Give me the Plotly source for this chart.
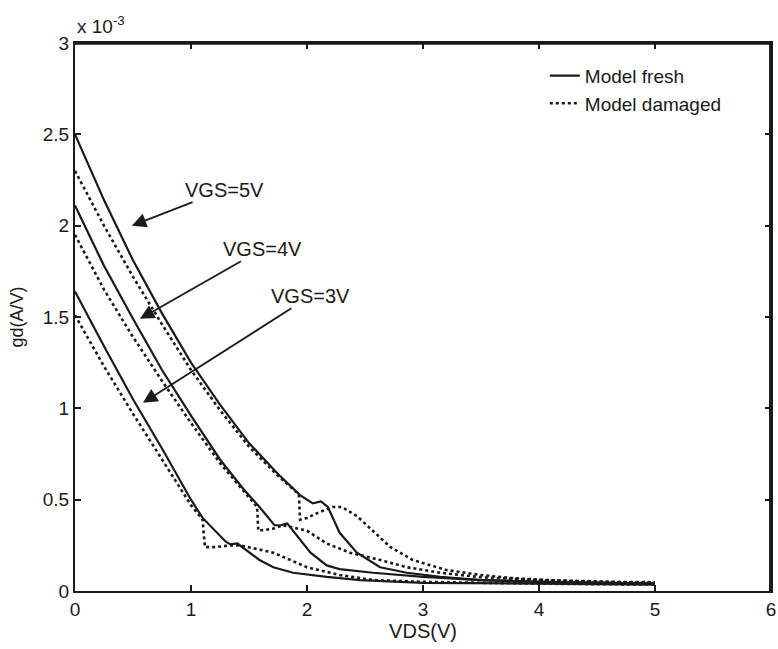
import plotly.graph_objects as go

# VDS (V) and gd values in units of 1e-3 A/V
vds_5_fresh = [0, 0.25, 0.5, 0.75, 1.0, 1.25, 1.5, 1.75, 1.94, 2.05, 2.12, 2.18, 2.28, 2.43, 2.63, 2.86, 3.15, 3.5, 4.0, 4.5, 5.0]
gd_5_fresh = [2.50, 2.14, 1.81, 1.52, 1.25, 1.02, 0.81, 0.64, 0.525, 0.48, 0.49, 0.46, 0.32, 0.21, 0.13, 0.10, 0.077, 0.06, 0.05, 0.045, 0.04]

vds_5_dam = [0, 0.25, 0.5, 0.75, 1.0, 1.25, 1.5, 1.75, 1.93, 1.94, 2.0, 2.1, 2.22, 2.3, 2.43, 2.57, 2.72, 2.91, 3.2, 3.49, 3.78, 4.07, 4.35, 4.64, 5.0]
gd_5_dam = [2.30, 2.00, 1.72, 1.46, 1.21, 0.99, 0.79, 0.63, 0.53, 0.39, 0.40, 0.43, 0.46, 0.46, 0.41, 0.33, 0.24, 0.17, 0.115, 0.088, 0.07, 0.06, 0.055, 0.05, 0.048]

vds_4_fresh = [0, 0.25, 0.5, 0.75, 1.0, 1.25, 1.45, 1.59, 1.72, 1.77, 1.83, 1.94, 2.03, 2.17, 2.28, 2.57, 3.0, 3.5, 4.0, 5.0]
gd_4_fresh = [2.11, 1.78, 1.49, 1.21, 0.96, 0.72, 0.56, 0.46, 0.36, 0.36, 0.37, 0.28, 0.21, 0.14, 0.12, 0.10, 0.077, 0.06, 0.05, 0.04]

vds_4_dam = [0, 0.25, 0.5, 0.75, 1.0, 1.25, 1.45, 1.57, 1.58, 1.7, 1.79, 2.0, 2.17, 2.37, 2.63, 2.86, 3.15, 3.5, 4.0, 4.5, 5.0]
gd_4_dam = [1.95, 1.65, 1.39, 1.15, 0.92, 0.70, 0.55, 0.46, 0.33, 0.34, 0.36, 0.33, 0.26, 0.21, 0.17, 0.13, 0.10, 0.075, 0.06, 0.05, 0.045]

vds_3_fresh = [0, 0.25, 0.5, 0.75, 1.0, 1.10, 1.30, 1.34, 1.40, 1.59, 1.71, 1.88, 2.17, 2.46, 3.0, 4.0, 5.0]
gd_3_fresh = [1.64, 1.34, 1.05, 0.78, 0.50, 0.40, 0.27, 0.255, 0.26, 0.17, 0.13, 0.10, 0.077, 0.06, 0.045, 0.04, 0.035]

vds_3_dam = [0, 0.25, 0.5, 0.75, 1.0, 1.10, 1.12, 1.2, 1.35, 1.42, 1.71, 2.0, 2.28, 2.57, 3.0, 4.0, 5.0]
gd_3_dam = [1.51, 1.23, 0.97, 0.72, 0.47, 0.39, 0.24, 0.24, 0.25, 0.25, 0.21, 0.13, 0.088, 0.06, 0.05, 0.04, 0.035]

x_ticks = [0, 1, 2, 3, 4, 5, 6]
y_ticks = [0, 0.5, 1, 1.5, 2, 2.5, 3]
y_tick_labels = ["0", "0.5", "1", "1.5", "2", "2.5", "3"]

labels = ["VGS=5V", "VGS=4V", "VGS=3V"]
label_tips = [(0.49, 2.0), (0.56, 1.49), (0.586, 1.03)]
label_offsets = [(93, -36), (123, -70), (168, -107)]

FONT = "Liberation Sans, Arial, sans-serif"
INK = "#1a1a1a"

fig = go.Figure()
series = [
    (vds_5_fresh, gd_5_fresh, "solid", "Model fresh", True),
    (vds_5_dam, gd_5_dam, "dot", "Model damaged", True),
    (vds_4_fresh, gd_4_fresh, "solid", "Model fresh", False),
    (vds_4_dam, gd_4_dam, "dot", "Model damaged", False),
    (vds_3_fresh, gd_3_fresh, "solid", "Model fresh", False),
    (vds_3_dam, gd_3_dam, "dot", "Model damaged", False),
]
for xs, ys, dash, name, show in series:
    fig.add_trace(go.Scatter(
        x=xs, y=ys, mode="lines", name=name, legendgroup=name, showlegend=show,
        line=dict(color=INK, width=2.2 if dash == "solid" else 2.6, dash=dash),
    ))

# invisible trace that activates the top / right axes of the box
fig.add_trace(go.Scatter(x=[None], y=[None], xaxis="x2", yaxis="y2",
                         showlegend=False, hoverinfo="skip"))

for text, (tx, ty), (ax, ay) in zip(labels, label_tips, label_offsets):
    fig.add_annotation(
        x=tx, y=ty, xref="x", yref="y", text=text, showarrow=True,
        ax=ax, ay=ay, arrowhead=2, arrowsize=1.6, arrowwidth=1.8, arrowcolor=INK,
        font=dict(family=FONT, size=20, color=INK),
    )

fig.add_annotation(
    x=0, y=1, xref="paper", yref="paper", xanchor="left", yanchor="bottom",
    yshift=4, text="x 10<sup>-3</sup>", showarrow=False,
    font=dict(family=FONT, size=19, color=INK),
)

# box outline drawn as a path just inside the plotting area
fig.add_shape(type="path", xref="paper", yref="paper",
              path="M 0,0.999 L 0.999,0.999 L 0.999,0",
              line=dict(color=INK, width=2.5), layer="above")

axis_common = dict(
    showline=True, linecolor=INK, linewidth=2,
    ticks="inside", ticklen=6, tickwidth=2, tickcolor=INK,
    showgrid=False, zeroline=False, automargin=False,
    tickfont=dict(family=FONT, size=19, color=INK),
)

fig.update_layout(
    xaxis=dict(
        range=[0, 6], tickvals=x_ticks,
        title=dict(text="VDS(V)", font=dict(family=FONT, size=20, color=INK), standoff=2),
        **axis_common,
    ),
    yaxis=dict(
        range=[0, 3], tickvals=y_ticks, ticktext=y_tick_labels,
        title=dict(text="gd(A/V)", font=dict(family=FONT, size=18, color=INK), standoff=14),
        **axis_common,
    ),
    xaxis2=dict(
        range=[0, 6], tickvals=x_ticks, showticklabels=False,
        overlaying="x", side="top", anchor="y2", **axis_common,
    ),
    yaxis2=dict(
        range=[0, 3], tickvals=y_ticks, showticklabels=False,
        overlaying="y", side="right", anchor="x2", **axis_common,
    ),
    width=778, height=649,
    margin=dict(l=75, r=7, t=43, b=58, autoexpand=False),
    paper_bgcolor="white", plot_bgcolor="white",
    legend=dict(
        x=0.675, y=0.975, xanchor="left", yanchor="top",
        font=dict(family=FONT, size=19, color=INK),
        bgcolor="rgba(255,255,255,0)", tracegroupgap=0,
        itemwidth=30,
    ),
)

fig.write_html(
    "out.html",
    config={"displayModeBar": False},
    post_script="document.body.style.margin='0';document.body.style.overflow='hidden';",
)
